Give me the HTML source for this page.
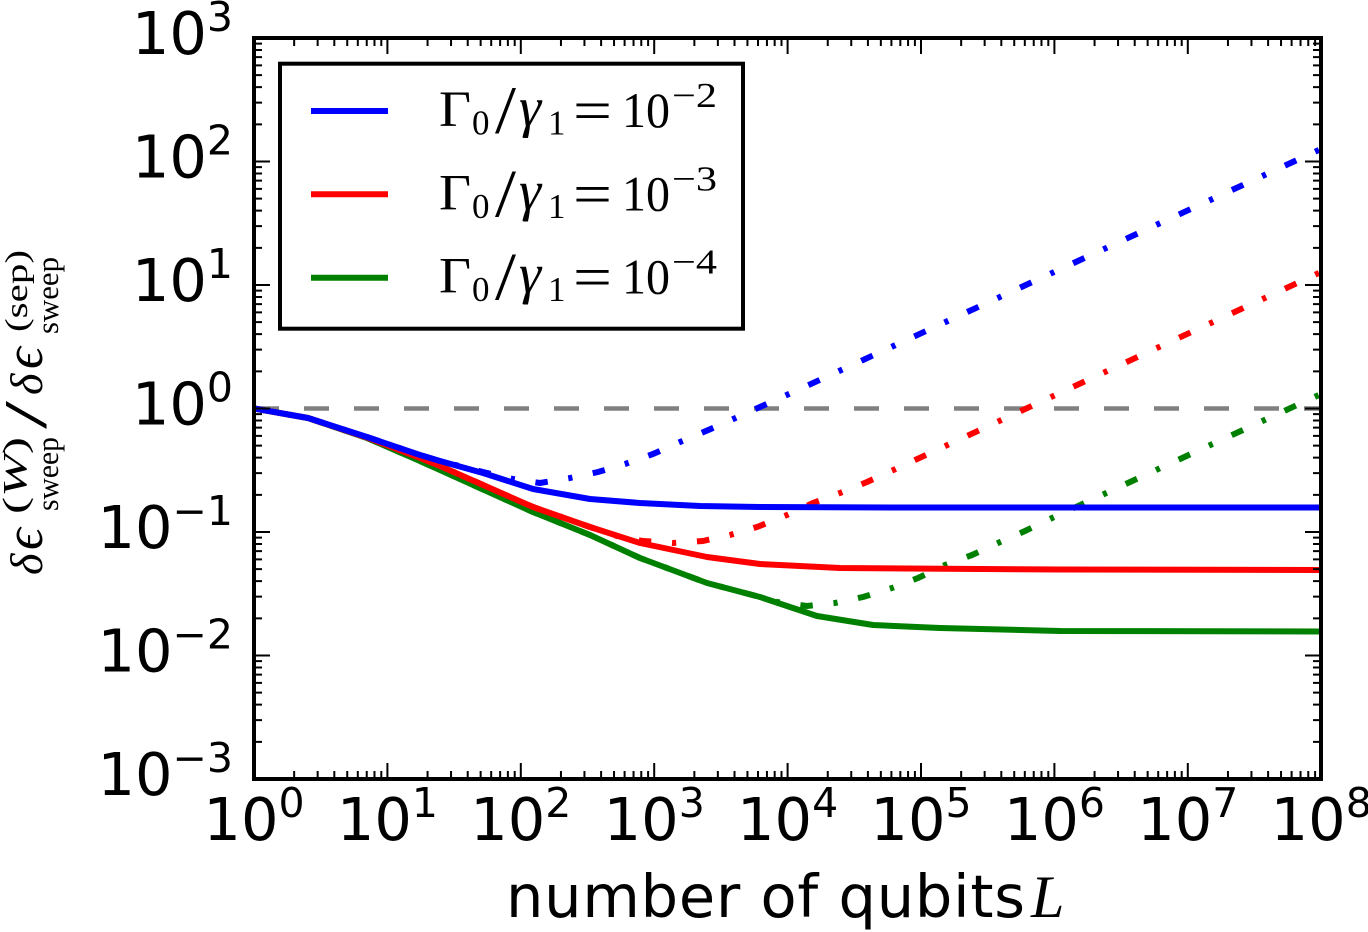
<!DOCTYPE html>
<html>
<head>
<meta charset="utf-8">
<style>
html,body{margin:0;padding:0;background:#fff;}
svg{display:block;}
</style>
</head>
<body>
<svg width="1368" height="932" viewBox="0 0 1368 932" xmlns="http://www.w3.org/2000/svg">
<defs>
<clipPath id="pa"><rect x="254" y="38" width="1067" height="741"/></clipPath>
<g id="xd" stroke="#000" stroke-width="2" fill="none">
<path d="M0 779v-16M40.16 779v-8M63.65 779v-8M80.31 779v-8M93.24 779v-8M103.8 779v-8M112.74 779v-8M120.47 779v-8M127.3 779v-8"/>
<path d="M0 38v16M40.16 38v8M63.65 38v8M80.31 38v8M93.24 38v8M103.8 38v8M112.74 38v8M120.47 38v8M127.3 38v8"/>
</g>
<g id="yd" stroke="#000" stroke-width="2" fill="none">
<path d="M254 0h16M254 -37.18h8M254 -58.92h8M254 -74.35h8M254 -86.32h8M254 -96.1h8M254 -104.37h8M254 -111.53h8M254 -117.85h8"/>
<path d="M1321 0h-16M1321 -37.18h-8M1321 -58.92h-8M1321 -74.35h-8M1321 -86.32h-8M1321 -96.1h-8M1321 -104.37h-8M1321 -111.53h-8M1321 -117.85h-8"/>
</g>
</defs>
<rect width="1368" height="932" fill="#fff"/>

<!-- curves -->
<g clip-path="url(#pa)" fill="none" stroke-linejoin="round">
<line x1="254" y1="408.5" x2="1321" y2="408.5" stroke="#808080" stroke-width="4.5" stroke-dasharray="25 25"/>
<g stroke-width="6" stroke-dasharray="12.5 20.8 4.2 20.8" stroke-linecap="butt">
<polyline stroke="#008000" points="254,408.5 308,418 367,438 420,461 440,470 533,512 590,535 640,558 707,583 760,597 777,602 807,606 835,603 863,597 892,588 918,578 945,565 972,555 998,543 1025,531 1052,518 1321,394"/>
<polyline stroke="#ff0000" points="254,408.5 308,418 367,437.5 420,458 440,466 533,507 590,527 620,537 643,541 673,543 703,541 730,535 757,527 787,515 813,503 840,493 867,482 900,467 1321,272"/>
<polyline stroke="#0000ff" points="254,408.5 308,418 367,437 420,455 440,461 483,472 513,479 540,483 570,478 598,472 625,464 653,454 680,442 720,425 760,407 800,389 900,343 1321,149"/>
</g>
<g stroke-width="6" stroke-linecap="square">
<polyline stroke="#008000" points="254,408.5 308,418 367,438 420,461 440,470 533,512 590,535 640,558 707,583 760,597 817,616 873,625 940,628 1060,631 1321,631.5"/>
<polyline stroke="#ff0000" points="254,408.5 308,418 367,437.5 420,458 440,466 533,507 590,527 640,543 707,557 760,564 840,568 1060,569.5 1321,570"/>
<polyline stroke="#0000ff" points="254,408.5 308,418 367,437 420,455 440,461 483,473 533,489 590,499 640,503 700,506 760,507 900,507.5 1321,507.5"/>
</g>
</g>

<!-- ticks -->
<use href="#xd" x="254"/>
<use href="#xd" x="387.4"/>
<use href="#xd" x="520.8"/>
<use href="#xd" x="654.2"/>
<use href="#xd" x="787.6"/>
<use href="#xd" x="921"/>
<use href="#xd" x="1054.4"/>
<use href="#xd" x="1187.8"/>
<use href="#yd" y="779"/>
<use href="#yd" y="655.5"/>
<use href="#yd" y="532"/>
<use href="#yd" y="408.5"/>
<use href="#yd" y="285"/>
<use href="#yd" y="161.5"/>

<!-- frame -->
<rect x="254" y="38" width="1067" height="741" fill="none" stroke="#000" stroke-width="4"/>

<!-- y tick labels -->
<g font-family="'DejaVu Sans', 'Liberation Sans', sans-serif" font-size="59" fill="#000" text-anchor="end">
<text x="233" y="54">10<tspan dy="-23" font-size="41">3</tspan></text>
<text x="233" y="177.5">10<tspan dy="-23" font-size="41">2</tspan></text>
<text x="233" y="301">10<tspan dy="-23" font-size="41">1</tspan></text>
<text x="233" y="424.5">10<tspan dy="-23" font-size="41">0</tspan></text>
<text x="233" y="548">10<tspan dy="-23" font-size="41">−1</tspan></text>
<text x="233" y="671.5">10<tspan dy="-23" font-size="41">−2</tspan></text>
<text x="233" y="795">10<tspan dy="-23" font-size="41">−3</tspan></text>
</g>

<!-- x tick labels -->
<g font-family="'DejaVu Sans', 'Liberation Sans', sans-serif" font-size="59" fill="#000" text-anchor="middle">
<text x="254" y="840">10<tspan dy="-23" font-size="41">0</tspan></text>
<text x="387.4" y="840">10<tspan dy="-23" font-size="41">1</tspan></text>
<text x="520.8" y="840">10<tspan dy="-23" font-size="41">2</tspan></text>
<text x="654.2" y="840">10<tspan dy="-23" font-size="41">3</tspan></text>
<text x="787.6" y="840">10<tspan dy="-23" font-size="41">4</tspan></text>
<text x="921" y="840">10<tspan dy="-23" font-size="41">5</tspan></text>
<text x="1054.4" y="840">10<tspan dy="-23" font-size="41">6</tspan></text>
<text x="1187.8" y="840">10<tspan dy="-23" font-size="41">7</tspan></text>
<text x="1321.2" y="840">10<tspan dy="-23" font-size="41">8</tspan></text>
</g>

<!-- x label -->
<text x="506" y="917" font-family="'DejaVu Sans', 'Liberation Sans', sans-serif" font-size="59" fill="#000" textLength="519" lengthAdjust="spacing">number of qubits</text>
<text x="1031" y="917" font-family="'Liberation Serif', 'DejaVu Serif', serif" font-style="italic" font-size="60" fill="#000">L</text>

<!-- y label -->
<g transform="rotate(-90)" font-family="'Liberation Serif', 'DejaVu Serif', serif" fill="#000">
<text x="-575" y="42" font-size="46" font-style="italic">δ</text>
<text x="-550" y="42" font-size="54" font-style="italic">ϵ</text>
<text x="-511" y="58" font-size="31" textLength="74" lengthAdjust="spacingAndGlyphs">sweep</text>
<text x="-514" y="26" font-size="34" textLength="77" lengthAdjust="spacingAndGlyphs">(<tspan font-style="italic">W</tspan>)</text>
<text x="-429" y="46" font-size="60" textLength="28" lengthAdjust="spacingAndGlyphs">/</text>
<text x="-395" y="42" font-size="46" font-style="italic">δ</text>
<text x="-369" y="42" font-size="54" font-style="italic">ϵ</text>
<text x="-334" y="58" font-size="31" textLength="77" lengthAdjust="spacingAndGlyphs">sweep</text>
<text x="-332" y="27" font-size="32" textLength="82" lengthAdjust="spacingAndGlyphs">(sep)</text>
</g>

<!-- legend -->
<rect x="280" y="63.7" width="463" height="265" fill="#fff" stroke="#000" stroke-width="4"/>
<g stroke-width="6">
<line x1="311" y1="111" x2="388" y2="111" stroke="#0000ff"/>
<line x1="311" y1="194.3" x2="388" y2="194.3" stroke="#ff0000"/>
<line x1="311" y1="277.7" x2="388" y2="277.7" stroke="#008000"/>
</g>
<g font-family="'Liberation Serif', 'DejaVu Serif', serif" fill="#000">
<g>
<text x="439" y="126" font-size="51" textLength="32" lengthAdjust="spacingAndGlyphs">Γ</text>
<text x="472" y="134.5" font-size="35">0</text>
<text x="495" y="133" font-size="68" textLength="21" lengthAdjust="spacingAndGlyphs">/</text>
<text x="519" y="126" font-size="56" font-style="italic">γ</text>
<text x="548" y="134.5" font-size="35">1</text>
<text x="573" y="130" font-size="58" textLength="39" lengthAdjust="spacingAndGlyphs">=</text>
<text x="622" y="127" font-size="50" textLength="48" lengthAdjust="spacingAndGlyphs">10</text>
<text x="672" y="107" font-size="35" textLength="45" lengthAdjust="spacingAndGlyphs">−2</text>
</g>
<g transform="translate(0,83.3)">
<text x="439" y="126" font-size="51" textLength="32" lengthAdjust="spacingAndGlyphs">Γ</text>
<text x="472" y="134.5" font-size="35">0</text>
<text x="495" y="133" font-size="68" textLength="21" lengthAdjust="spacingAndGlyphs">/</text>
<text x="519" y="126" font-size="56" font-style="italic">γ</text>
<text x="548" y="134.5" font-size="35">1</text>
<text x="573" y="130" font-size="58" textLength="39" lengthAdjust="spacingAndGlyphs">=</text>
<text x="622" y="127" font-size="50" textLength="48" lengthAdjust="spacingAndGlyphs">10</text>
<text x="672" y="107" font-size="35" textLength="45" lengthAdjust="spacingAndGlyphs">−3</text>
</g>
<g transform="translate(0,166.7)">
<text x="439" y="126" font-size="51" textLength="32" lengthAdjust="spacingAndGlyphs">Γ</text>
<text x="472" y="134.5" font-size="35">0</text>
<text x="495" y="133" font-size="68" textLength="21" lengthAdjust="spacingAndGlyphs">/</text>
<text x="519" y="126" font-size="56" font-style="italic">γ</text>
<text x="548" y="134.5" font-size="35">1</text>
<text x="573" y="130" font-size="58" textLength="39" lengthAdjust="spacingAndGlyphs">=</text>
<text x="622" y="127" font-size="50" textLength="48" lengthAdjust="spacingAndGlyphs">10</text>
<text x="672" y="107" font-size="35" textLength="45" lengthAdjust="spacingAndGlyphs">−4</text>
</g>
</g>
</svg>
</body>
</html>
